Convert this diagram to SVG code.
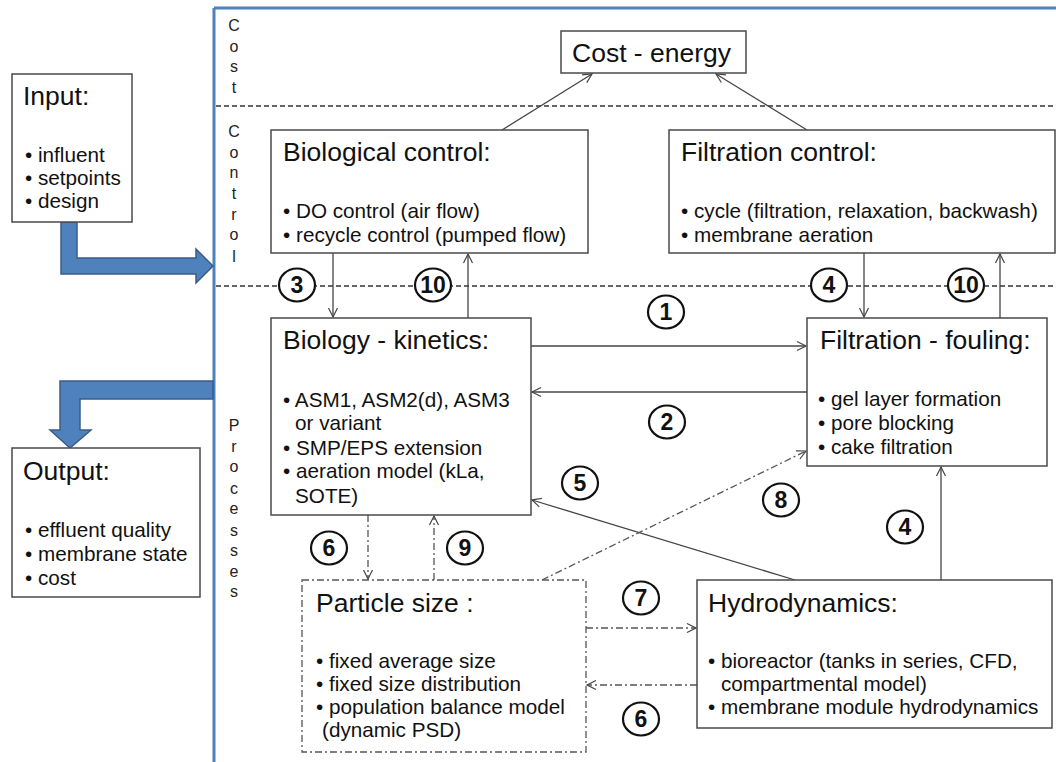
<svg xmlns="http://www.w3.org/2000/svg" width="1056" height="762" viewBox="0 0 1056 762">
<style>
text{font-family:"Liberation Sans",Arial,sans-serif;fill:#111}
.t{font-size:26.5px}
.b{font-size:20.7px}
.v{font-size:16px;text-anchor:middle;fill:#222}
.n{font-size:23px;font-weight:bold;text-anchor:middle}
.box{fill:#fff;stroke:#4a4a4a;stroke-width:1.5}
.dbox{fill:#fff;stroke:#555;stroke-width:1.3;stroke-dasharray:7 3 2 3}
.lane{stroke:#333;stroke-width:1.3;stroke-dasharray:5 3;fill:none}
.c{stroke:#444;stroke-width:1.3;fill:none;marker-end:url(#ah)}
.dd{stroke:#555;stroke-width:1.3;fill:none;stroke-dasharray:7 3 2 3;marker-end:url(#ah)}
.lbl{fill:#fff;stroke:#111;stroke-width:2.2}
.big{fill:#4F81BD;stroke:#385D8A;stroke-width:1.5}
</style>
<defs>
<marker id="ah" markerWidth="12" markerHeight="12" refX="10" refY="6" orient="auto" markerUnits="userSpaceOnUse">
<path d="M1,1.5 L10,6 L1,10.5" fill="none" stroke="#444" stroke-width="1.2"/>
</marker>
</defs>
<rect width="1056" height="762" fill="#fff"/>
<g id="frame">
<line x1="214" y1="8" x2="1056" y2="8" stroke="#4F81BD" stroke-width="3"/>
<line x1="214" y1="8" x2="214" y2="762" stroke="#4F81BD" stroke-width="3"/>
<line class="lane" x1="216" y1="106" x2="1056" y2="106"/>
<line class="lane" x1="216" y1="286" x2="1056" y2="286"/>
<text class="v" x="234" y="31">C</text><text class="v" x="234" y="52">o</text><text class="v" x="234" y="72">s</text><text class="v" x="234" y="93">t</text>
<text class="v" x="234" y="137">C</text><text class="v" x="234" y="158">o</text><text class="v" x="234" y="178">n</text><text class="v" x="234" y="199">t</text><text class="v" x="234" y="220">r</text><text class="v" x="234" y="240">o</text><text class="v" x="234" y="262">l</text>
<text class="v" x="234" y="431">P</text><text class="v" x="234" y="452">r</text><text class="v" x="234" y="472">o</text><text class="v" x="234" y="494">c</text><text class="v" x="234" y="514">e</text><text class="v" x="234" y="536">s</text><text class="v" x="234" y="556">s</text><text class="v" x="234" y="577">e</text><text class="v" x="234" y="597">s</text>
</g>
<g id="io-arrows">
<polygon class="big" points="61,222 77,222 77,258 196,258 196,249 213,266 196,283 196,274 61,274"/>
<polygon class="big" points="213,381 213,399 80,399 80,430 91,430 70,448 50,430 60,430 60,381"/>
</g>
<g id="connectors">
<line class="c" x1="502" y1="130" x2="592" y2="74"/>
<line class="c" x1="807" y1="130" x2="716" y2="74"/>
<line class="c" x1="333" y1="253" x2="333" y2="317"/>
<line class="c" x1="468" y1="318" x2="468" y2="254"/>
<line class="c" x1="864" y1="253" x2="864" y2="317"/>
<line class="c" x1="1000" y1="318" x2="1000" y2="254"/>
<line class="c" x1="531" y1="346" x2="806" y2="346"/>
<line class="c" x1="807" y1="392" x2="532" y2="392"/>
<line class="c" x1="795" y1="580" x2="532" y2="500"/>
<line class="c" x1="941" y1="580" x2="941" y2="467"/>
<line class="dd" x1="542" y1="580" x2="806" y2="451"/>
<line class="dd" x1="368" y1="515" x2="368" y2="579"/>
<line class="dd" x1="434" y1="580" x2="434" y2="516"/>
<line class="dd" x1="586" y1="628" x2="696" y2="628"/>
<line class="dd" x1="697" y1="685" x2="587" y2="685"/>
</g>
<g id="labels">
<ellipse class="lbl" cx="666" cy="312" rx="18" ry="16.5"/><text class="n" x="666" y="320">1</text>
<ellipse class="lbl" cx="667" cy="422" rx="18" ry="16.5"/><text class="n" x="667" y="430">2</text>
<ellipse class="lbl" cx="297" cy="285" rx="18" ry="16.5"/><text class="n" x="297" y="293">3</text>
<ellipse class="lbl" cx="433" cy="285" rx="18" ry="16.5"/><text class="n" x="433" y="293">10</text>
<ellipse class="lbl" cx="829" cy="285" rx="18" ry="16.5"/><text class="n" x="829" y="293">4</text>
<ellipse class="lbl" cx="966" cy="285" rx="18" ry="16.5"/><text class="n" x="966" y="293">10</text>
<ellipse class="lbl" cx="580" cy="483" rx="18" ry="16.5"/><text class="n" x="580" y="491">5</text>
<ellipse class="lbl" cx="781" cy="500" rx="18" ry="16.5"/><text class="n" x="781" y="508">8</text>
<ellipse class="lbl" cx="905" cy="527" rx="18" ry="16.5"/><text class="n" x="905" y="535">4</text>
<ellipse class="lbl" cx="329" cy="548" rx="18" ry="16.5"/><text class="n" x="329" y="556">6</text>
<ellipse class="lbl" cx="465" cy="548" rx="18" ry="16.5"/><text class="n" x="465" y="556">9</text>
<ellipse class="lbl" cx="641" cy="598" rx="18" ry="16.5"/><text class="n" x="641" y="606">7</text>
<ellipse class="lbl" cx="641" cy="719" rx="18" ry="16.5"/><text class="n" x="641" y="727">6</text>
</g>
<g id="input">
<rect class="box" x="12" y="74" width="120" height="148"/>
<text class="t" x="23" y="105">Input:</text>
<text class="b" x="25" y="162">• influent</text>
<text class="b" x="25" y="185">• setpoints</text>
<text class="b" x="25" y="208">• design</text>
</g>
<g id="output">
<rect class="box" x="12" y="448" width="188" height="149"/>
<text class="t" x="23" y="480">Output:</text>
<text class="b" x="25" y="537">• effluent quality</text>
<text class="b" x="25" y="561">• membrane state</text>
<text class="b" x="25" y="585">• cost</text>
</g>
<g id="cost-energy">
<rect class="box" x="561" y="31" width="185" height="42"/>
<text class="t" x="572" y="62">Cost - energy</text>
</g>
<g id="biological-control">
<rect class="box" x="271" y="130" width="317" height="123"/>
<text class="t" x="283" y="161">Biological control:</text>
<text class="b" x="283" y="218">• DO control (air flow)</text>
<text class="b" x="283" y="242">• recycle control (pumped flow)</text>
</g>
<g id="filtration-control">
<rect class="box" x="669" y="130" width="386" height="123"/>
<text class="t" x="681" y="161">Filtration control:</text>
<text class="b" x="681" y="218">• cycle (filtration, relaxation, backwash)</text>
<text class="b" x="681" y="242">• membrane aeration</text>
</g>
<g id="biology-kinetics">
<rect class="box" x="271" y="318" width="260" height="197"/>
<text class="t" x="283" y="349">Biology - kinetics:</text>
<text class="b" x="283" y="407">• ASM1, ASM2(d), ASM3</text>
<text class="b" x="295" y="430">or variant</text>
<text class="b" x="283" y="455">• SMP/EPS extension</text>
<text class="b" x="283" y="478">• aeration model (kLa,</text>
<text class="b" x="295" y="503">SOTE)</text>
</g>
<g id="filtration-fouling">
<rect class="box" x="807" y="318" width="240" height="148"/>
<text class="t" x="820" y="349">Filtration - fouling:</text>
<text class="b" x="818" y="406">• gel layer formation</text>
<text class="b" x="818" y="430">• pore blocking</text>
<text class="b" x="818" y="454">• cake filtration</text>
</g>
<g id="particle-size">
<rect class="dbox" x="302" y="580" width="284" height="172"/>
<text class="t" x="316" y="612">Particle size :</text>
<text class="b" x="316" y="668">• fixed average size</text>
<text class="b" x="316" y="691">• fixed size distribution</text>
<text class="b" x="316" y="714">• population balance model</text>
<text class="b" x="322" y="737">(dynamic PSD)</text>
</g>
<g id="hydrodynamics">
<rect class="box" x="697" y="580" width="355" height="148"/>
<text class="t" x="708" y="612">Hydrodynamics:</text>
<text class="b" x="708" y="668">• bioreactor (tanks in series, CFD,</text>
<text class="b" x="721" y="691">compartmental model)</text>
<text class="b" x="708" y="714">• membrane module hydrodynamics</text>
</g>
</svg>
